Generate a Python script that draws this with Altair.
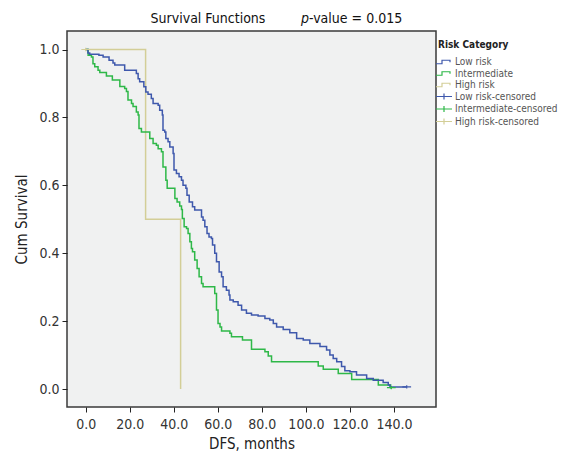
import altair as alt
import pandas as pd

# ---------------- data ----------------
categories = ["Low risk", "Intermediate", "High risk",
              "Low risk-censored", "Intermediate-censored", "High risk-censored"]
colors = ["#3E58AC", "#2EB848", "#D3CE97", "#3E58AC", "#2EB848", "#D3CE97"]

low_risk = [(0, 1.0), (1.0, 0.99), (1.8, 0.986), (6.0, 0.983), (7.9, 0.978), (10.6, 0.968),
            (12.4, 0.96), (13.2, 0.954), (17.7, 0.939), (23.0, 0.929), (23.8, 0.914),
            (24.5, 0.905), (26.4, 0.89), (27.3, 0.875), (28.3, 0.868), (29.8, 0.856),
            (30.6, 0.841), (32.9, 0.836), (33.6, 0.821), (34.8, 0.807), (35.1, 0.762),
            (35.9, 0.757), (36.4, 0.738), (37.4, 0.728), (38.2, 0.713), (39.7, 0.694),
            (40.1, 0.645), (41.2, 0.635), (42.4, 0.625), (43.5, 0.615), (44.2, 0.6),
            (45.5, 0.591), (46.0, 0.571), (47.0, 0.551), (48.5, 0.537), (49.5, 0.527),
            (52.6, 0.507), (53.3, 0.497), (54.1, 0.478), (55.1, 0.458), (56.0, 0.448),
            (57.1, 0.443), (57.6, 0.424), (58.6, 0.4), (59.4, 0.375), (60.6, 0.345),
            (61.7, 0.331), (62.4, 0.301), (63.9, 0.291), (65.1, 0.277), (65.5, 0.262),
            (67.0, 0.257), (69.2, 0.247), (70.8, 0.233), (73.0, 0.223), (75.3, 0.218),
            (78.3, 0.215), (81.4, 0.208), (83.6, 0.203), (85.2, 0.193), (86.7, 0.183),
            (89.7, 0.175), (92.7, 0.166), (95.8, 0.149), (98.8, 0.144), (101.8, 0.134),
            (106.4, 0.125), (109.4, 0.115), (110.9, 0.1), (112.4, 0.09), (114.0, 0.08),
            (116.2, 0.066), (117.7, 0.054), (120.0, 0.051), (123.0, 0.041), (127.6, 0.031),
            (130.6, 0.026), (135.1, 0.019), (137.4, 0.012), (138.2, 0.006), (145.8, 0.006)]

intermediate = [(0, 1.0), (1.1, 0.983), (2.6, 0.978), (3.3, 0.958), (4.1, 0.949), (5.6, 0.939),
                (6.4, 0.932), (9.4, 0.922), (12.1, 0.91), (15.5, 0.891), (17.7, 0.885),
                (18.5, 0.876), (19.2, 0.851), (20.8, 0.841), (21.5, 0.832), (23.0, 0.816),
                (23.8, 0.807), (24.2, 0.767), (25.3, 0.757), (29.1, 0.738), (30.6, 0.723),
                (32.1, 0.718), (32.9, 0.708), (34.4, 0.699), (35.1, 0.654), (36.4, 0.615),
                (37.0, 0.591), (40.5, 0.561), (41.5, 0.551), (42.7, 0.539), (43.5, 0.529),
                (43.9, 0.502), (44.7, 0.478), (45.8, 0.473), (46.5, 0.458), (47.3, 0.434),
                (48.0, 0.414), (48.5, 0.404), (49.5, 0.38), (50.6, 0.355), (51.5, 0.331),
                (52.6, 0.311), (53.3, 0.301), (58.6, 0.281), (59.4, 0.233), (60.1, 0.193),
                (61.0, 0.183), (61.7, 0.171), (65.5, 0.164), (66.2, 0.154), (71.2, 0.144),
                (75.3, 0.117), (81.4, 0.11), (82.9, 0.097), (84.4, 0.08), (105.6, 0.068),
                (107.9, 0.058), (114.7, 0.046), (120.8, 0.028), (132.9, 0.012),
                (138.5, 0.004), (138.8, 0.004)]

high_risk = [(0, 1.0), (27.2, 0.5), (43.1, 0.0)]

censored = [("High risk-censored", 0.0, 1.0),
            ("Low risk-censored", 145.8, 0.006),
            ("Intermediate-censored", 138.8, 0.004)]

x_ticks = [0, 20, 40, 60, 80, 100, 120, 140]
y_ticks = [0.0, 0.2, 0.4, 0.6, 0.8, 1.0]
title_main = "Survival Functions"
title_p = "p"
title_rest = "-value = 0.015"

# ---------------- build tables ----------------
rows = []
for name, series in [("High risk", high_risk), ("Intermediate", intermediate), ("Low risk", low_risk)]:
    for t, s in series:
        rows.append({"cat": name, "t": t, "s": s})
lines_df = pd.DataFrame(rows)
cens_df = pd.DataFrame([{"cat": c, "t": t, "s": s} for c, t, s in censored])

F = "DejaVu Sans Condensed, Liberation Sans Narrow, sans-serif"
step_path = "M-1.6,0.35 H-0.4 V-0.35 H1.2 V0.05"
plus_path = "M-1.6,0 H1.6 M0,-0.6 V0.6"
shapes = [step_path] * 3 + [plus_path] * 3

xscale = alt.Scale(domain=[-8.5, 159.1], nice=False, zero=False)
yscale = alt.Scale(domain=[-0.053, 1.0545], nice=False, zero=False)
cscale = alt.Scale(domain=categories, range=colors)
sscale = alt.Scale(domain=categories, range=shapes)

xaxis = alt.Axis(values=x_ticks, format=".1f", title="DFS, months", labelPadding=5, titlePadding=5)
yaxis = alt.Axis(values=y_ticks, format=".1f", title="Cum Survival", labelPadding=3, titlePadding=9)

legend = alt.Legend(title="Risk Category", orient="none", legendX=371, legendY=9,
                    titleFont=F, titleFontSize=10, titleFontWeight="bold", titleColor="#222",
                    labelFont=F, labelFontSize=10, labelColor="#555",
                    symbolSize=100, symbolStrokeWidth=1.2, rowPadding=0.5, labelOffset=5,
                    titlePadding=6)

lines = alt.Chart(lines_df).mark_line(interpolate="step-after", strokeWidth=1.5).encode(
    x=alt.X("t:Q", scale=xscale, axis=xaxis),
    y=alt.Y("s:Q", scale=yscale, axis=yaxis),
    color=alt.Color("cat:N", scale=cscale, legend=legend),
    order=alt.Order("t:Q"),
)

points = alt.Chart(cens_df).mark_point(filled=False, size=30, strokeWidth=1.2, opacity=1).encode(
    x=alt.X("t:Q", scale=xscale),
    y=alt.Y("s:Q", scale=yscale),
    color=alt.Color("cat:N", scale=cscale, legend=legend),
    shape=alt.Shape("cat:N", scale=sscale, legend=legend),
)

one = pd.DataFrame({"k": [0]})
t1 = alt.Chart(one).mark_text(text=title_main, font=F, fontSize=14, color="#111",
                              align="center", baseline="alphabetic").encode(
    x=alt.value(141), y=alt.value(-8))
t2 = alt.Chart(one).mark_text(text=title_p, font=F, fontSize=14, fontStyle="italic", color="#111",
                              align="right", baseline="alphabetic").encode(
    x=alt.value(242), y=alt.value(-8))
t3 = alt.Chart(one).mark_text(text=title_rest, font=F, fontSize=14, color="#111",
                              align="left", baseline="alphabetic").encode(
    x=alt.value(242), y=alt.value(-8))

chart = alt.layer(lines, points, t1, t2, t3).properties(
    width=369, height=376,
    padding={"left": 59, "top": 23, "right": 138, "bottom": 44},
    autosize=alt.AutoSizeParams(type="none"),
).configure_view(
    fill="#F0F1F1", stroke="#3a3a3a", strokeWidth=1.5
).configure_axis(
    domain=False, grid=False, tickColor="#222", tickSize=5, tickWidth=1,
    labelFont=F, labelFontSize=14, labelColor="#333",
    titleFont=F, titleFontSize=15, titleFontWeight="normal", titleColor="#222",
)

chart.save("out.html", embed_options={"renderer": "svg", "actions": False})
